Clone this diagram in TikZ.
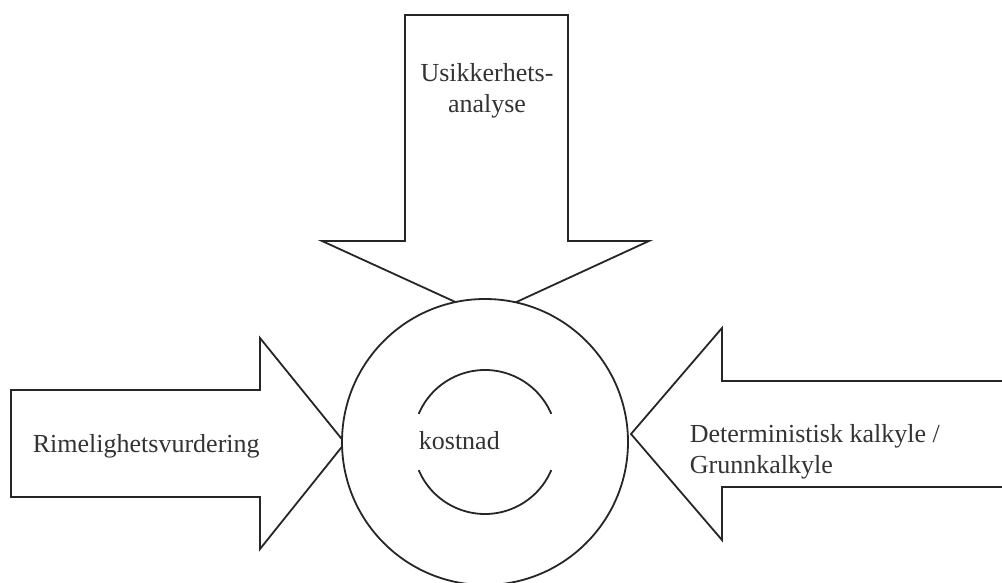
\documentclass[tikz,border=0pt]{standalone}
\usepackage{fontspec}
\setmainfont{Liberation Serif}
\usetikzlibrary{positioning}

\begin{document}
\begin{tikzpicture}[x=1pt, y=-1pt, line width=1.8pt, line join=miter,
    blockarrow/.style={draw=black!85, fill=white},
    lbl/.style={font=\fontsize{26}{31}\selectfont, text=black!80, inner sep=0pt}]
  \useasboundingbox (0,0) rectangle (1002,583);
  \clip (0,0) rectangle (1002,583);

  % Block arrows (tips run into the circle)
  \draw[blockarrow] (405,15) -- (568,15) -- (568,241) -- (649,241) -- (486,316) -- (322,241) -- (405,241) -- cycle;
  \draw[blockarrow] (11,390) -- (260,390) -- (260,338) -- (345,443) -- (260,549) -- (260,497) -- (11,497) -- cycle;
  \draw[blockarrow] (1010,381) -- (722,381) -- (722,328) -- (631,434) -- (722,540) -- (722,487) -- (1010,487);

  % Centre circle with the two inner arcs
  \node[circle, draw=black!85, fill=white, minimum size=286pt, inner sep=0pt] (core) at (485,442) {};
  \draw[black!85] ([shift={(157:72pt)}]core.center) arc[start angle=157, end angle=23, radius=72pt];
  \draw[black!85] ([shift={(203:72pt)}]core.center) arc[start angle=203, end angle=337, radius=72pt];

  % Labels (base of a two-line node is its last line)
  \node[lbl, anchor=base west] (cost) at (418,449) {kostnad};
  \node[lbl, align=center, anchor=base] (usik) at (487,113) {Usikkerhets-\\analyse};
  \node[lbl, anchor=base west] (rime) at (32,452) {Rimelighetsvurdering};
  \node[lbl, align=left, anchor=base west] (determ) at (689,473) {Deterministisk kalkyle /\\Grunnkalkyle};
\end{tikzpicture}
\end{document}
